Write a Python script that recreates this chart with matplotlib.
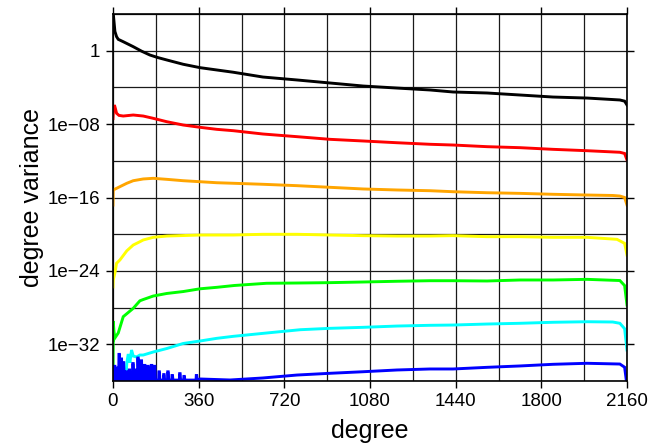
import numpy as np
import matplotlib
matplotlib.use("Agg")
import matplotlib.pyplot as plt
from matplotlib.ticker import FixedLocator, NullFormatter

# ---- data (degree, log10 of degree variance) ----
deg_black = [0, 1, 8, 15, 22, 43, 85, 120, 155, 190, 226, 295, 366, 436, 506, 630, 773, 912,
             1051, 1193, 1332, 1429, 1572, 1711, 1849, 1992, 2130, 2150, 2160]
log_black = [5.0, 4.08, 2.1, 1.53, 1.24, 0.98, 0.44, -0.05, -0.47, -0.76, -1.01, -1.48,
             -1.85, -2.10, -2.35, -2.87, -3.19, -3.52, -3.85, -4.07, -4.28, -4.50, -4.61,
             -4.83, -5.05, -5.16, -5.37, -5.50, -5.92]

deg_red = [0, 2, 6, 10, 15, 25, 43, 85, 127, 169, 226, 295, 366, 436, 506, 630, 773,
           912, 1051, 1193, 1332, 1429, 1572, 1711, 1849, 1992, 2130, 2150, 2160]
log_red = [-7.4, -6.4, -5.92, -6.3, -6.82, -7.05, -7.12, -7.01, -7.12, -7.37, -7.74,
           -8.10, -8.35, -8.57, -8.72, -9.08, -9.37, -9.66, -9.84, -10.03, -10.20,
           -10.28, -10.46, -10.57, -10.75, -10.90, -11.07, -11.20, -11.91]

deg_orange = [0, 1, 29, 58, 85, 127, 169, 226, 295, 366, 436, 506, 630, 773, 912, 1051,
              1193, 1332, 1429, 1572, 1711, 1849, 1992, 2101, 2130, 2150, 2160]
log_orange = [-16.82, -15.18, -14.82, -14.45, -14.17, -13.98, -13.91, -14.02, -14.17,
              -14.28, -14.39, -14.45, -14.56, -14.71, -14.89, -15.07, -15.18, -15.26,
              -15.37, -15.48, -15.55, -15.65, -15.73, -15.78, -15.84, -16.0, -16.82]

deg_yellow = [0, 1, 8, 15, 29, 58, 85, 113, 127, 169, 226, 366, 506, 630, 773, 912,
              1051, 1193, 1332, 1429, 1572, 1711, 1849, 1992, 2118, 2150, 2160]
log_yellow = [-25.75, -25.0, -24.23, -23.17, -22.81, -21.81, -21.18, -20.82, -20.63,
              -20.34, -20.20, -20.09, -20.09, -20.01, -20.01, -20.09, -20.16, -20.20,
              -20.20, -20.16, -20.27, -20.27, -20.34, -20.34, -20.56, -21.0, -22.27]

deg_green = [0, 1, 4, 8, 22, 43, 85, 113, 127, 169, 226, 295, 366, 436, 510, 645, 773,
             912, 1051, 1193, 1332, 1429, 1572, 1711, 1849, 1992, 2130, 2150, 2160]
log_green = [-36.5, -29.46, -30.6, -31.31, -30.77, -28.99, -28.08, -27.26, -27.12, -26.74,
             -26.46, -26.25, -25.95, -25.79, -25.59, -25.35, -25.32, -25.28, -25.21,
             -25.13, -25.07, -25.07, -25.10, -24.99, -24.99, -24.92, -25.05, -25.6, -27.72]

deg_cyan = [0, 50, 53, 58, 64, 71, 78, 85, 99, 113, 127, 169, 226, 295, 366, 436, 506,
            645, 787, 912, 1051, 1193, 1332, 1429, 1572, 1711, 1849, 1992, 2100, 2130,
            2150, 2160]
log_cyan = [-40.0, -40.0, -36.1, -34.04, -33.06, -34.0, -32.62, -33.28, -33.38, -33.17,
            -33.17, -32.84, -32.46, -31.91, -31.64, -31.35, -31.13, -30.77, -30.41,
            -30.26, -30.15, -30.01, -29.93, -29.90, -29.79, -29.71, -29.60, -29.54,
            -29.57, -29.71, -30.3, -32.62]

deg_blue = [0, 3, 5, 6, 8, 10, 14, 15, 17, 19, 24, 25, 27, 29, 33, 34, 36, 38, 42, 43,
            45, 47, 54, 55, 57, 59, 67, 68, 70, 72, 82, 83, 85, 87, 89, 90, 92, 94,
            103, 104, 106, 108, 117, 118, 120, 122, 131, 132, 134, 136, 145, 146, 148,
            150, 160, 161, 163, 165, 173, 174, 176, 178, 192, 193, 195, 197, 212, 213,
            215, 217, 229, 230, 232, 234, 247, 248, 250, 252, 279, 280, 282, 284, 297,
            298, 300, 302, 349, 350, 352, 354, 366, 492, 630, 773, 912, 1051, 1193,
            1332, 1429, 1572, 1711, 1849, 1992, 2130, 2150, 2160]
log_blue = [-36.5, -35.9, -35.9, -34.4, -34.4, -35.9, -35.9, -34.6, -34.6, -35.9, -35.9,
            -33.1, -33.1, -35.9, -35.9, -33.6, -33.6, -35.9, -35.9, -34.0, -34.0, -35.9,
            -35.9, -35.0, -35.0, -35.9, -35.9, -34.8, -34.8, -35.9, -35.9, -34.1, -34.1,
            -35.9, -35.9, -34.8, -34.8, -35.9, -35.9, -33.5, -33.5, -35.9, -35.9, -33.8,
            -33.8, -35.9, -35.9, -34.3, -34.3, -35.9, -35.9, -34.4, -34.4, -35.9, -35.9,
            -34.3, -34.3, -35.9, -35.9, -34.4, -34.4, -35.9, -35.9, -35.0, -35.0, -35.9,
            -35.9, -35.3, -35.3, -35.9, -35.9, -35.0, -35.0, -35.9, -35.9, -35.4, -35.4,
            -35.9, -35.9, -35.2, -35.2, -35.9, -35.9, -35.5, -35.5, -35.9, -35.9, -35.4,
            -35.4, -35.9, -35.78, -35.89, -35.67, -35.35, -35.16, -34.99, -34.80, -34.69,
            -34.69, -34.51, -34.36, -34.18, -34.07, -34.15, -34.5, -36.5]

series = [
    (deg_black, log_black, "#000000"),
    (deg_red, log_red, "#ff0000"),
    (deg_orange, log_orange, "#ffa500"),
    (deg_yellow, log_yellow, "#ffff00"),
    (deg_green, log_green, "#00ff00"),
    (deg_cyan, log_cyan, "#00ffff"),
    (deg_blue, log_blue, "#0000ff"),
]

x_ticks = [0, 360, 720, 1080, 1440, 1800, 2160]
y_ticks = [1e0, 1e-8, 1e-16, 1e-24, 1e-32]
y_tick_labels = ["1", "1e\u221208", "1e\u221216", "1e\u221224", "1e\u221232"]

# ---- figure ----
plt.rcParams['font.family'] = ['Liberation Sans', 'DejaVu Sans']
fig = plt.figure(figsize=(6.67, 4.43), dpi=100)
ax = fig.add_axes([113/667, 1 - 381/443, (627 - 113)/667, (381 - 14)/443])

for d, lg, c in series:
    ax.plot(d, 10.0 ** np.array(lg), color=c, lw=2.1, zorder=3,
            solid_joinstyle='miter')

ax.set_yscale('log')
ax.set_xlim(0, 2160)
ax.set_ylim(1e-36, 1e4)

ax.xaxis.set_major_locator(FixedLocator(x_ticks))
ax.xaxis.set_minor_locator(FixedLocator(np.arange(0, 2161, 180)))
ax.yaxis.set_major_locator(FixedLocator(y_ticks))
ax.yaxis.set_minor_locator(FixedLocator([10.0 ** e for e in range(4, -37, -4)]))
ax.yaxis.set_minor_formatter(NullFormatter())
ax.set_yticklabels(y_tick_labels)
ax.set_xticklabels([str(v) for v in x_ticks])

ax.grid(True, which='both', color='#1a1a1a', lw=0.9, zorder=1)
ax.set_axisbelow(True)

ax.tick_params(which='major', direction='out', length=5, width=1.0,
               top=True, right=True, labelsize=13.5, pad=4, color='black')
ax.tick_params(which='minor', length=0)

for s in ax.spines.values():
    s.set_linewidth(1.2)
    s.set_zorder(5)

ax.set_xlabel("degree", fontsize=18, labelpad=6)
ax.set_ylabel("degree variance", fontsize=18, labelpad=3)

fig.savefig("out.png", dpi=100)
